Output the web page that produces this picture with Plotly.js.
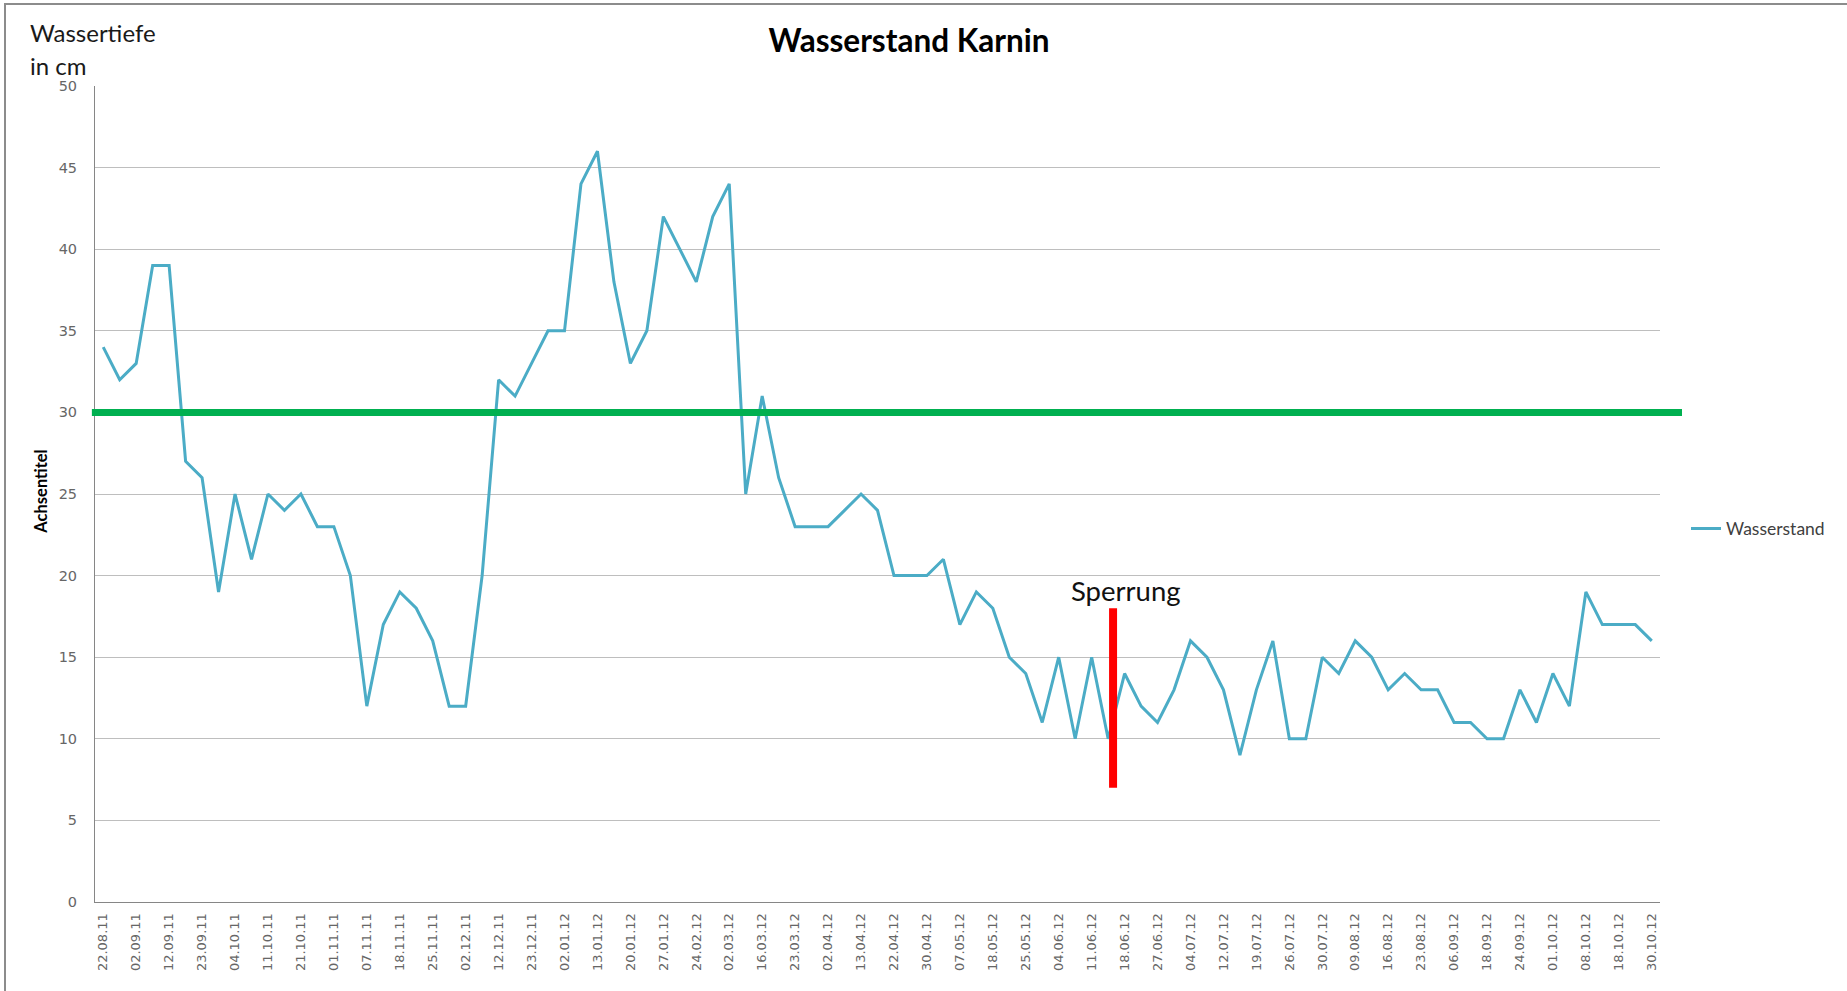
<!DOCTYPE html>
<html>
<head>
<meta charset="utf-8">
<script src="https://cdn.plot.ly/plotly-3.0.1.min.js"></script>
<style>
  html, body { margin: 0; padding: 0; background: #ffffff; }
  #chart { position: absolute; left: 0; top: 0; width: 1847px; height: 991px; }
  #bTop { position: absolute; left: 4px; top: 3px; width: 1843px; height: 2px; background: #8c8c8c; }
  #bLeft { position: absolute; left: 4px; top: 3px; width: 2px; height: 988px; background: #8c8c8c; }
</style>
</head>
<body>
<div id="chart"></div>
<div id="bTop"></div>
<div id="bLeft"></div>
<script>
// Tick labels (every second measurement is labelled)
const dateLabels = [
  "22.08.11","02.09.11","12.09.11","23.09.11","04.10.11","11.10.11","21.10.11","01.11.11",
  "07.11.11","18.11.11","25.11.11","02.12.11","12.12.11","23.12.11","02.01.12","13.01.12",
  "20.01.12","27.01.12","24.02.12","02.03.12","16.03.12","23.03.12","02.04.12","13.04.12",
  "22.04.12","30.04.12","07.05.12","18.05.12","25.05.12","04.06.12","11.06.12","18.06.12",
  "27.06.12","04.07.12","12.07.12","19.07.12","26.07.12","30.07.12","09.08.12","16.08.12",
  "23.08.12","06.09.12","18.09.12","24.09.12","01.10.12","08.10.12","18.10.12","30.10.12"
];

// Water depth in cm, one value per measurement
const wasserstand = [
  34,32,33,39,39,27,26,19,25,21,
  25,24,25,23,23,20,12,17,19,18,
  16,12,12,20,32,31,33,35,35,44,
  46,38,33,35,42,40,38,42,44,25,
  31,26,23,23,23,24,25,24,20,20,
  20,21,17,19,18,15,14,11,15,10,
  15,10,14,12,11,13,16,15,13,9,
  13,16,10,10,15,14,16,15,13,14,
  13,13,11,11,10,10,13,11,14,12,
  19,17,17,17,16
];

const seriesName = "Wasserstand";
const chartTitle = "Wasserstand Karnin";
const thresholdValue = 30;       // green line
const closureLabel = "Sperrung"; // red marker
const closurePos = 61.3;         // position of red marker (category index)
const closureRange = [7, 18];

const xIdx = wasserstand.map((_, i) => i);
const tickVals = dateLabels.map((_, i) => i * 2);

const tickFont = { family: "DejaVu Sans, sans-serif", size: 13, color: "#666666" };

const trace = {
  type: "scatter",
  mode: "lines",
  x: xIdx,
  y: wasserstand,
  name: seriesName,
  line: { color: "#4BACC6", width: 3 },
  hoverinfo: "y"
};

const layout = {
  width: 1847,
  height: 991,
  margin: { l: 95, r: 187, t: 86, b: 89 },
  paper_bgcolor: "#ffffff",
  plot_bgcolor: "#ffffff",
  title: {
    text: "<b>" + chartTitle + "</b>",
    x: 909 / 1847, xanchor: "center",
    y: 1 - 41 / 991, yanchor: "middle",
    font: { family: "Lato, sans-serif", size: 31.5, color: "#000000" }
  },
  xaxis: {
    range: [-0.5, wasserstand.length - 0.5],
    tickmode: "array",
    tickvals: tickVals,
    ticktext: dateLabels,
    tickangle: -90,
    ticks: "",
    ticklabelstandoff: 5,
    showgrid: false,
    zeroline: false,
    showline: true,
    linecolor: "#868686",
    linewidth: 1,
    tickfont: tickFont,
    fixedrange: true
  },
  yaxis: {
    range: [0, 50],
    dtick: 5,
    tick0: 0,
    ticks: "",
    ticklabelstandoff: 14,
    showgrid: true,
    gridcolor: "#BEBEBE",
    gridwidth: 1,
    zeroline: false,
    showline: true,
    linecolor: "#868686",
    linewidth: 1,
    tickfont: { family: "DejaVu Sans, sans-serif", size: 14.5, color: "#666666" },
    fixedrange: true
  },
  showlegend: true,
  legend: {
    x: (1686 - 95) / 1565, xanchor: "left",
    y: (902.6 - 529) / 816.5, yanchor: "middle",
    font: { family: "Lato, sans-serif", size: 17.5, color: "#404040" },
    bgcolor: "rgba(0,0,0,0)"
  },
  shapes: [
    {
      type: "line", xref: "paper", yref: "y",
      x0: -0.002, x1: (1682 - 95) / 1565, y0: thresholdValue, y1: thresholdValue,
      line: { color: "#00B050", width: 7 }
    },
    {
      type: "line", xref: "x", yref: "y",
      x0: closurePos, x1: closurePos, y0: closureRange[0], y1: closureRange[1],
      line: { color: "#FF0000", width: 8 }
    }
  ],
  annotations: [
    {
      text: "Wassertiefe", xref: "paper", yref: "paper",
      x: (28 - 95) / 1565, xanchor: "left",
      y: (902.6 - 33) / 816.5, yanchor: "middle",
      showarrow: false,
      font: { family: "Lato, sans-serif", size: 24, color: "#1a1a1a" }
    },
    {
      text: "in cm", xref: "paper", yref: "paper",
      x: (28 - 95) / 1565, xanchor: "left",
      y: (902.6 - 66) / 816.5, yanchor: "middle",
      showarrow: false,
      font: { family: "Lato, sans-serif", size: 24, color: "#1a1a1a" }
    },
    {
      text: "<b>Achsentitel</b>", xref: "paper", yref: "paper",
      x: (41 - 95) / 1565, xanchor: "center",
      y: (902.6 - 492) / 816.5, yanchor: "middle",
      textangle: -90,
      showarrow: false,
      font: { family: "Lato, sans-serif", size: 16.5, color: "#000000" }
    },
    {
      text: closureLabel, xref: "x", yref: "y",
      x: 62.1, xanchor: "center",
      y: 19.1, yanchor: "middle",
      showarrow: false,
      font: { family: "Lato, sans-serif", size: 27.5, color: "#111111" }
    }
  ]
};

Plotly.newPlot("chart", [trace], layout, { displayModeBar: false, staticPlot: true });
</script>
</body>
</html>
